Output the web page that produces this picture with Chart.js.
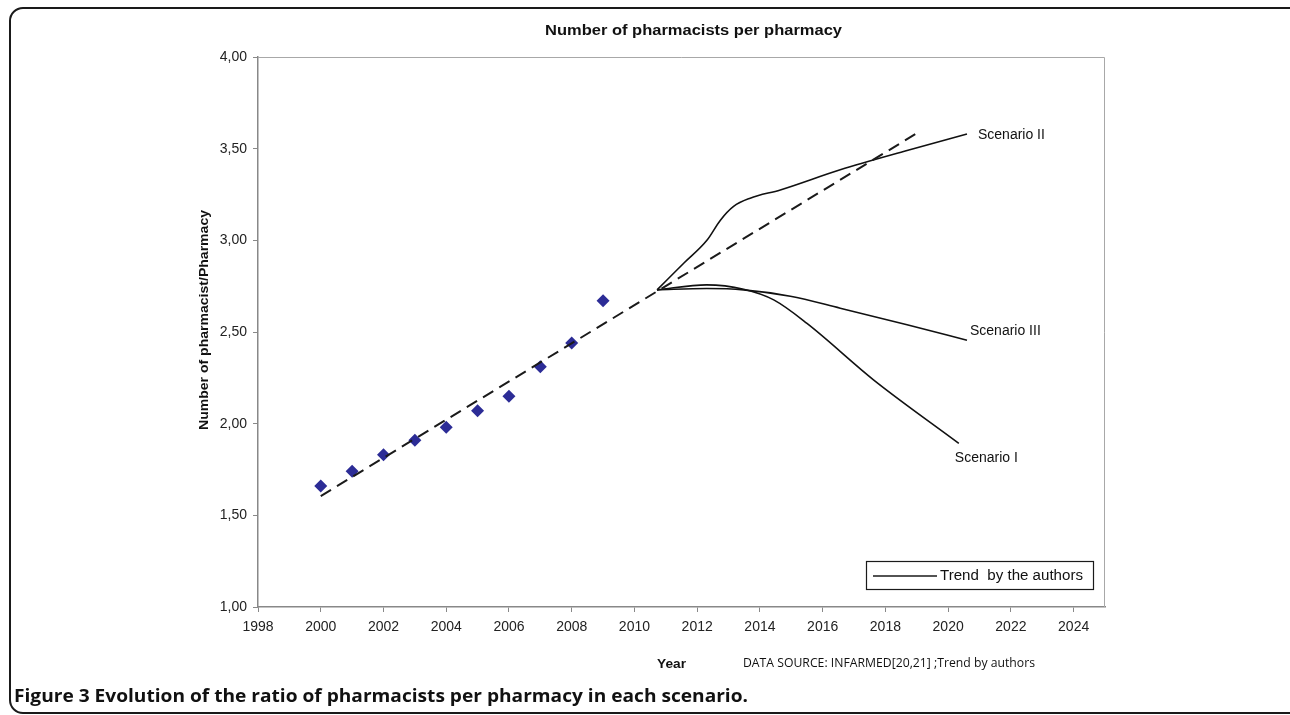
<!DOCTYPE html>
<html>
<head>
<meta charset="utf-8">
<title>Number of pharmacists per pharmacy</title>
<script src="https://cdn.jsdelivr.net/npm/chart.js@4.4.1/dist/chart.umd.min.js"></script>
<style>
  html, body { margin: 0; padding: 0; background: #fff; }
  #wrap { position: relative; width: 1290px; height: 715px; }
</style>
</head>
<body>
<div id="wrap"><canvas id="chart" width="1290" height="715"></canvas></div>
<script>
// Observed ratio (INFARMED) 2000-2009
const obsYears = [2000, 2001, 2002, 2003, 2004, 2005, 2006, 2007, 2008, 2009];
const obsRatio = [1.66, 1.74, 1.83, 1.91, 1.98, 2.07, 2.15, 2.31, 2.44, 2.67];

// dashed linear trend
const trendYears = [2000, 2018.96];
const trendRatio = [1.605, 3.58];

// scenario curves drawn by the authors
const scen2Years = [2010.72, 2011.57, 2012.31, 2012.74, 2013.16, 2013.69, 2014.65, 2016.56, 2018.69, 2020.6];
const scen2Ratio = [2.73, 2.875, 3.0, 3.11, 3.185, 3.23, 3.275, 3.385, 3.49, 3.58];
const scen3Years = [2010.72, 2012.3, 2013.48, 2014.97, 2016.56, 2018.69, 2020.6];
const scen3Ratio = [2.73, 2.737, 2.73, 2.695, 2.63, 2.54, 2.455];
const scen1Years = [2010.72, 2012.3, 2013.48, 2014.44, 2015.5, 2017.63, 2020.34];
const scen1Ratio = [2.73, 2.757, 2.733, 2.675, 2.547, 2.238, 1.893];

const scenarioNames = ['Scenario I', 'Scenario II', 'Scenario III'];
const xTicks = [1998, 2000, 2002, 2004, 2006, 2008, 2010, 2012, 2014, 2016, 2018, 2020, 2022, 2024];

const pts = (xs, ys) => xs.map((x, i) => ({ x: x, y: ys[i] }));

// where each scenario label sits relative to the end of its curve
const labelOffsets = {
  'Scenario I': { dx: -4, dy: 15 },
  'Scenario II': { dx: 11, dy: 1 },
  'Scenario III': { dx: 3, dy: -9 },
};

function fitText(ctx, text, x, y, width) {
  const w = ctx.measureText(text).width;
  ctx.save();
  ctx.translate(x, y);
  ctx.scale(width / w, 1);
  ctx.fillText(text, 0, 0);
  ctx.restore();
}

const decorations = {
  id: 'decorations',
  afterDraw(chart) {
    const ctx = chart.ctx;
    const area = chart.chartArea;
    const xs = chart.scales.x, ys = chart.scales.y;
    ctx.save();

    // plot border (top / right)
    ctx.strokeStyle = '#a8a8a8';
    ctx.lineWidth = 1;
    ctx.beginPath();
    ctx.moveTo(area.left, area.top + 0.5);
    ctx.lineTo(area.right - 0.5, area.top + 0.5);
    ctx.lineTo(area.right - 0.5, area.bottom);
    ctx.stroke();

    // outer rounded frame
    ctx.strokeStyle = '#1a1a1a';
    ctx.lineWidth = 2;
    ctx.beginPath();
    ctx.roundRect(10, 8, 1295, 705, 13);
    ctx.stroke();

    ctx.fillStyle = '#111';
    ctx.textBaseline = 'middle';

    // chart title
    ctx.font = 'bold 14px "Liberation Sans", Arial, sans-serif';
    ctx.textAlign = 'left';
    fitText(ctx, 'Number of pharmacists per pharmacy', 545, 31, 297);

    // y axis title
    ctx.save();
    ctx.translate(205, 320);
    ctx.rotate(-Math.PI / 2);
    ctx.font = 'bold 12.5px "Liberation Sans", Arial, sans-serif';
    fitText(ctx, 'Number of pharmacist/Pharmacy', -110, 0, 220);
    ctx.restore();

    // x axis title + source note
    ctx.font = 'bold 12.5px "Liberation Sans", Arial, sans-serif';
    fitText(ctx, 'Year', 657, 665, 29);
    ctx.font = '12px "Open Sans", sans-serif';
    fitText(ctx, 'DATA SOURCE: INFARMED[20,21] ;Trend by authors', 743, 664, 292);

    // scenario labels at the end of each curve
    ctx.font = '14px "Liberation Sans", Arial, sans-serif';
    const ends = {
      'Scenario I': [scen1Years[scen1Years.length - 1], scen1Ratio[scen1Ratio.length - 1]],
      'Scenario II': [scen2Years[scen2Years.length - 1], scen2Ratio[scen2Ratio.length - 1]],
      'Scenario III': [scen3Years[scen3Years.length - 1], scen3Ratio[scen3Ratio.length - 1]],
    };
    scenarioNames.forEach((name) => {
      const e = ends[name];
      const o = labelOffsets[name];
      ctx.fillText(name, xs.getPixelForValue(e[0]) + o.dx, ys.getPixelForValue(e[1]) + o.dy);
    });

    // legend box
    ctx.strokeStyle = '#1a1a1a';
    ctx.lineWidth = 1.2;
    ctx.strokeRect(866.5, 561.5, 227, 28);
    ctx.lineWidth = 1.6;
    ctx.beginPath();
    ctx.moveTo(873, 576);
    ctx.lineTo(937, 576);
    ctx.stroke();
    fitText(ctx, 'Trend  by the authors', 940, 576, 143);

    // caption
    ctx.font = 'bold 17px "Open Sans", sans-serif';
    fitText(ctx, 'Figure 3 Evolution of the ratio of pharmacists per pharmacy in each scenario.', 14, 697, 734);

    ctx.restore();
  },
};

const curve = (data) => ({
  data: data,
  showLine: true,
  borderColor: '#111',
  borderWidth: 1.6,
  pointRadius: 0,
  cubicInterpolationMode: 'monotone',
  fill: false,
});

new Chart(document.getElementById('chart'), {
  type: 'scatter',
  data: {
    datasets: [
      {
        data: pts(trendYears, trendRatio),
        showLine: true,
        borderColor: '#1a1a1a',
        borderWidth: 2,
        borderDash: [12, 7],
        pointRadius: 0,
      },
      curve(pts(scen1Years, scen1Ratio)),
      curve(pts(scen2Years, scen2Ratio)),
      curve(pts(scen3Years, scen3Ratio)),
      {
        data: pts(obsYears, obsRatio),
        pointStyle: 'rectRot',
        pointRadius: 6.5,
        backgroundColor: '#2c2c96',
        borderColor: '#2c2c96',
        borderWidth: 0,
      },
    ],
  },
  options: {
    responsive: false,
    animation: false,
    events: [],
    layout: { padding: { left: 190, top: 57, right: 185, bottom: 68 } },
    plugins: { legend: { display: false }, tooltip: { enabled: false } },
    scales: {
      x: {
        type: 'linear',
        min: 1998,
        max: 2025,
        afterFit: (s) => { s.height = 40; },
        afterBuildTicks: (s) => { s.ticks = xTicks.map((v) => ({ value: v })); },
        ticks: {
          color: '#222',
          font: { family: '"Liberation Sans", Arial, sans-serif', size: 14 },
          padding: 7,
          maxRotation: 0,
          callback: (v) => String(v),
        },
        grid: { drawOnChartArea: false, tickLength: 5, color: '#888', lineWidth: 1 },
        border: { color: '#888', width: 1.5 },
      },
      y: {
        min: 1,
        max: 4,
        afterFit: (s) => { s.width = 68; },
        ticks: {
          stepSize: 0.5,
          color: '#222',
          font: { family: '"Liberation Sans", Arial, sans-serif', size: 14 },
          padding: 6,
          callback: (v) => v.toFixed(2).replace('.', ','),
        },
        grid: { drawOnChartArea: false, tickLength: 5, color: '#888', lineWidth: 1 },
        border: { color: '#888', width: 1.5 },
      },
    },
  },
  plugins: [decorations],
});
</script>
</body>
</html>
